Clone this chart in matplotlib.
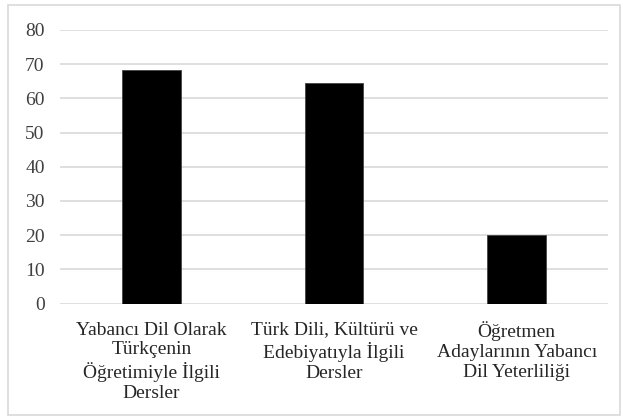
import matplotlib.pyplot as plt
from matplotlib.patches import Rectangle

# category labels and values
categories = ["Yabancı Dil Olarak\nTürkçenin\nÖğretimiyle İlgili\nDersler",
              "Türk Dili, Kültürü ve\nEdebiyatıyla İlgili\nDersler",
              "Öğretmen\nAdaylarının Yabancı\nDil Yeterliliği"]
values = [68.3, 64.4, 20]
yticks = [0, 10, 20, 30, 40, 50, 60, 70, 80]

plt.rcParams['font.family'] = ['Liberation Serif', 'DejaVu Serif']

fig = plt.figure(figsize=(6.23, 4.16), dpi=100)
ax = fig.add_axes([60 / 623, 1 - 303.5 / 416, 548 / 623, 273.5 / 416])

x = range(len(categories))
ax.bar(x, values, width=0.32, color="black", edgecolor="#444444", linewidth=0.6, zorder=3)

ax.set_xlim(-0.5, len(categories) - 0.5)
ax.set_ylim(0, 80)
ax.set_yticks(yticks)
ax.set_xticks(list(x))
ax.set_xticklabels(categories, fontsize=14, color="#262626", linespacing=1.22)
ax.tick_params(axis="y", labelsize=14, labelcolor="#404040", length=0, pad=11)
ax.tick_params(axis="x", length=0, pad=13)
ax.grid(axis="y", color="#d9d9d9", linewidth=1.2, zorder=0)
for s in ax.spines.values():
    s.set_visible(False)

# light border around the whole chart
fig.patches.append(Rectangle((8 / 623, 1 / 416), 612 / 623, 410 / 416, transform=fig.transFigure,
                             fill=False, edgecolor="#d9d9d9", linewidth=1.2))

fig.savefig("out.png", dpi=100)
